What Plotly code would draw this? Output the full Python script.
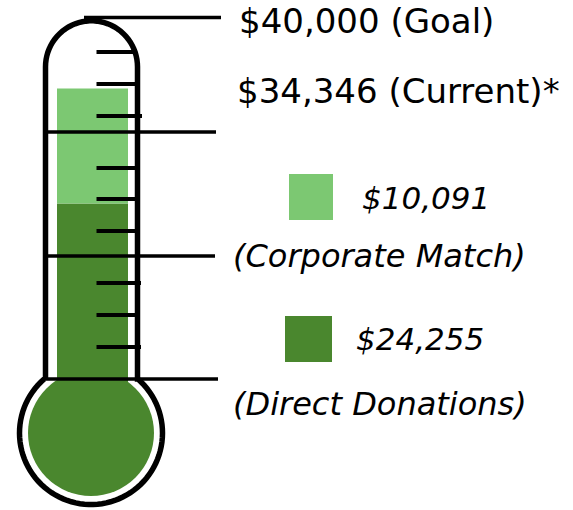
import numpy as np
import plotly.graph_objects as go

# ---- data ----
categories = ["Direct Donations", "Corporate Match"]
amounts = [24255, 10091]
colors = ["#4A872E", "#7CC872"]
goal = 40000
current = sum(amounts)

W, H = 573, 510
FONT = "DejaVu Sans"

fig = go.Figure()

# stacked bars (data marks) in dollar scale
base = 0
for cat, val, col in zip(categories, amounts, colors):
    fig.add_trace(go.Bar(x=[92.5], y=[val], base=[base], width=[71],
                         marker=dict(color=col, line=dict(width=0)),
                         name=cat, showlegend=False, hoverinfo="skip"))
    base += val

# ---- thermometer outline (decoration, pixel coords on y2) ----
shapes = []
shapes.append(dict(type="circle", xref="x", yref="y2", x0=28, x1=154, y0=370, y1=496,
                   fillcolor=colors[0], line=dict(width=0), layer="below"))
tcx, tcy, tr = 91.5, 66.8, 46
bcx, bcy, br = 91.0, 433.0, 71.5
pts = [(45.5, 379), (45.5, tcy)]
for t in np.linspace(np.pi, 0, 40):
    pts.append((tcx + tr * np.cos(t), tcy - tr * np.sin(t)))
pts.append((137.5, 379))
a0 = np.arcsin((379 - bcy) / br)
for t in np.linspace(a0, np.pi - a0, 80):
    pts.append((bcx + br * np.cos(t), bcy + br * np.sin(t)))
path = "M " + " L ".join(f"{x:.2f},{y:.2f}" for x, y in pts)
shapes.append(dict(type="path", xref="x", yref="y2", path=path,
                   line=dict(color="black", width=5.5), layer="above"))
for y, x0, x1 in [(17.5, 84, 221), (132, 46, 216), (256, 43, 215), (379, 42, 218)]:
    shapes.append(dict(type="line", xref="x", yref="y2", x0=x0, x1=x1, y0=y, y1=y,
                       line=dict(color="black", width=3.5), layer="above"))
for y, x1 in [(52, 134), (84, 137), (116, 142), (168, 137), (199, 137), (231, 137),
              (283, 141), (315, 137), (347, 141)]:
    shapes.append(dict(type="line", xref="x", yref="y2", x0=96.5, x1=x1, y0=y, y1=y,
                       line=dict(color="black", width=4), layer="above"))
for (y0, y1, x0, x1), col in zip([(316, 362, 285, 332), (174, 220, 289, 333)], colors):
    shapes.append(dict(type="rect", xref="x", yref="y2", x0=x0, x1=x1, y0=y0, y1=y1,
                       fillcolor=col, line=dict(width=0)))

# ---- text ----
def ann(x, y, text, italic=False, size=34):
    return dict(x=x, y=y, xref="x", yref="y2", text=text, showarrow=False,
                xanchor="left", yanchor="middle",
                font=dict(family=FONT, size=size, color="black",
                          style="italic" if italic else "normal"))

annotations = [
    ann(237, 21, f"${goal:,} (Goal)"),
    ann(235, 91, f"${current:,} (Current)*"),
    ann(360, 198, f"${amounts[1]:,}", True, 31),
    ann(231, 256, f"({categories[1]})", True, 32),
    ann(354, 339, f"${amounts[0]:,}", True, 31),
    ann(231, 404, f"({categories[0]})", True, 32),
]

k = 456 / 40000  # px per dollar
fig.update_layout(
    width=W, height=H, margin=dict(l=0, r=0, t=0, b=0),
    paper_bgcolor="white", plot_bgcolor="white",
    barmode="overlay", showlegend=False,
    xaxis=dict(range=[0, W], visible=False, fixedrange=True),
    yaxis=dict(range=[-30 / k, 40000 + 24 / k], visible=False, fixedrange=True),
    yaxis2=dict(range=[H, 0], overlaying="y", visible=False, fixedrange=True),
    shapes=shapes, annotations=annotations,
)
fig.add_trace(go.Scatter(x=[0], y=[0], yaxis="y2", mode="markers",
                         marker=dict(opacity=0), hoverinfo="skip", showlegend=False))
fig.write_html("out.html", config={"displayModeBar": False},
               post_script="document.body.style.margin='0';")
